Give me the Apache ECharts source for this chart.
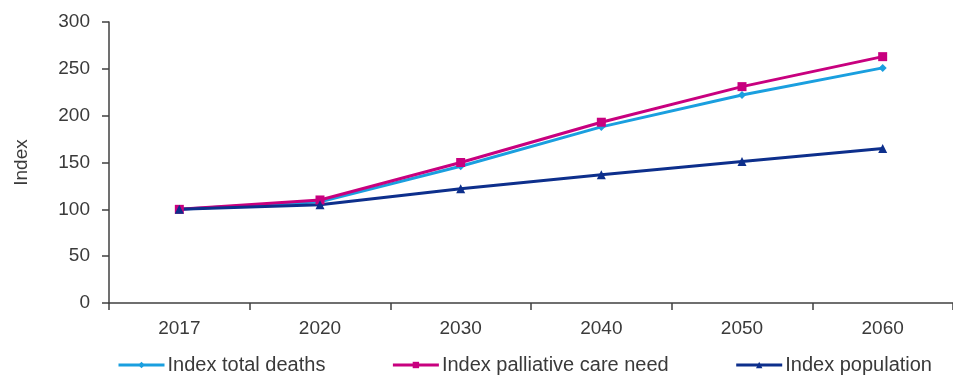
<!DOCTYPE html>
<html>
<head>
<meta charset="utf-8">
<script src="https://cdn.jsdelivr.net/npm/echarts@6/dist/echarts.min.js"></script>
<style>
  html, body { margin: 0; padding: 0; background: #fff; }
  #chart { width: 953px; height: 378px; }
</style>
</head>
<body>
<div id="chart"></div>
<script>
// years on the x axis
const years = ['2017', '2020', '2030', '2040', '2050', '2060'];

// index values, 2017 = 100
const totalDeaths = [100, 108, 146, 188, 222, 251];
const palliativeNeed = [100, 110, 150, 193, 231, 263];
const population = [100, 105, 122, 137, 151, 165];

const seriesNames = ['Index total deaths', 'Index palliative care need', 'Index population'];

const textColor = '#3a3a3a';
const axisColor = '#404040';
const font = 'Liberation Sans, Arial, sans-serif';

const chart = echarts.init(document.getElementById('chart'));

function lineSeries(name, data, color, symbol, size) {
  return {
    name: name,
    type: 'line',
    data: data,
    symbol: symbol,
    symbolSize: size,
    showAllSymbol: true,
    lineStyle: { color: color, width: 3 },
    itemStyle: { color: color },
    emphasis: { disabled: true },
    animation: false
  };
}

chart.setOption({
  animation: false,
  grid: { left: 109, top: 22, bottom: 75, width: 851 },
  legend: {
    left: 117,
    top: 355,
    padding: 0,
    itemWidth: 46,
    itemHeight: 8,
    itemGap: 66,
    lineStyle: { width: 3 },
    textStyle: { color: textColor, fontSize: 20, fontFamily: font, padding: [0, 0, 0, -2] },
    data: seriesNames
  },
  xAxis: {
    type: 'category',
    data: years,
    boundaryGap: true,
    axisLine: { lineStyle: { color: axisColor, width: 1.5 } },
    axisTick: { show: true, length: 7, lineStyle: { color: axisColor, width: 1.5 } },
    axisLabel: { color: textColor, fontSize: 19, fontFamily: font, margin: 16 }
  },
  yAxis: {
    type: 'value',
    min: 0,
    max: 300,
    interval: 50,
    name: 'Index',
    nameLocation: 'middle',
    nameGap: 78,
    nameTextStyle: { color: textColor, fontSize: 19, fontFamily: font },
    splitLine: { show: false },
    axisLine: { show: true, lineStyle: { color: axisColor, width: 1.5 } },
    axisTick: { show: true, length: 7, lineStyle: { color: axisColor, width: 1.5 } },
    axisLabel: { color: textColor, fontSize: 19, fontFamily: font, margin: 19 }
  },
  series: [
    lineSeries(seriesNames[0], totalDeaths, '#1a9fdf', 'diamond', 8),
    lineSeries(seriesNames[1], palliativeNeed, '#c8007f', 'rect', 9),
    lineSeries(seriesNames[2], population, '#0d2f8c', 'triangle', 9)
  ]
});
</script>
</body>
</html>
